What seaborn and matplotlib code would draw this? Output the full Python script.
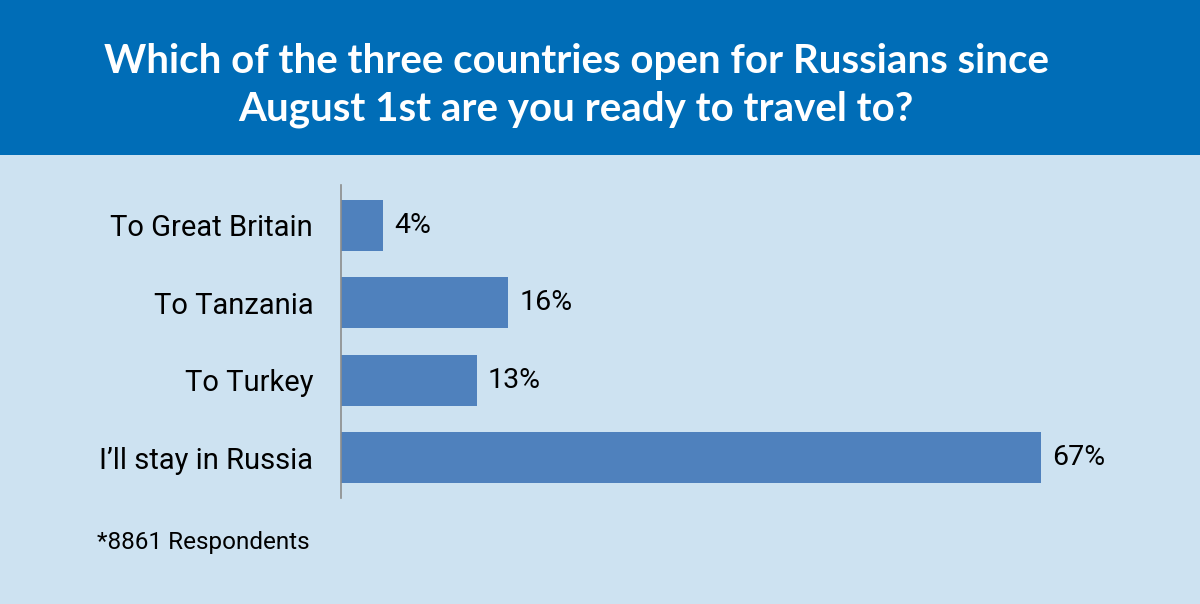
import pandas as pd
import seaborn as sns
import matplotlib.pyplot as plt
from matplotlib.patches import Rectangle

# dados
categorias = ["To Great Britain", "To Tanzania", "To Turkey", "I\u2019ll stay in Russia"]
valores = [4, 16, 13, 67]
rotulos = ["4%", "16%", "13%", "67%"]

titulo = "Which of the three countries open for Russians since\nAugust 1st are you ready to travel to?"
nota = "*8861 Respondents"

df = pd.DataFrame({"categoria": categorias, "valor": valores})

sns.set_theme(style="white")
plt.rcParams["font.family"] = ["Roboto", "DejaVu Sans"]

W, H = 1200, 604
fig = plt.figure(figsize=(W / 100, H / 100), dpi=100)
fig.patch.set_facecolor("#CDE2F1")

# faixa azul do título
fig.patches.append(Rectangle((0, 1 - 155 / H), 1, 155 / H, transform=fig.transFigure,
                             facecolor="#006DB7", edgecolor="none", zorder=0))
fig.text(576 / W, 1 - 85 / H, titulo, ha="center", va="center", color="white",
         fontsize=29, fontweight="bold", family=["Lato", "DejaVu Sans"], linespacing=1.35)

# eixo do gráfico
esq, dir_, topo, base = 341, 1160, 185, 498
ax = fig.add_axes([esq / W, 1 - base / H, (dir_ - esq) / W, (base - topo) / H])
ax.set_facecolor("none")

sns.barplot(data=df, x="valor", y="categoria", orient="h", color="#4F81BD",
            saturation=1, width=0.66, linewidth=0, edgecolor="none", ax=ax)

px_por_pct = 700 / 67
ax.set_xlim(0, (dir_ - esq) / px_por_pct)
ax.set_ylim(3.52, -0.52)

for i, (v, r) in enumerate(zip(valores, rotulos)):
    ax.text(v + 1.05, i, r, va="center", ha="left", fontsize=20.5, color="black")

ax.set_xticks([])
ax.set_xlabel("")
ax.set_ylabel("")
ax.tick_params(axis="y", length=0, pad=20, labelsize=21, labelcolor="black")
for s in ["top", "right", "bottom"]:
    ax.spines[s].set_visible(False)
ax.spines["left"].set_color("#8C8C8C")
ax.spines["left"].set_linewidth(1.2)

fig.text(97 / W, 1 - 542 / H, nota, ha="left", va="center", fontsize=17.5, color="black")

fig.savefig("out.png", dpi=100, facecolor=fig.get_facecolor())
